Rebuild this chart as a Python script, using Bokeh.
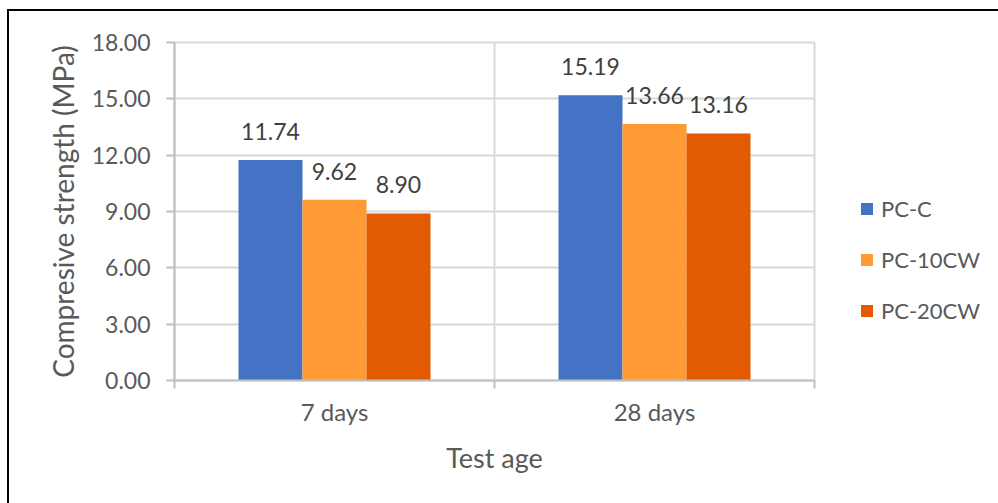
from bokeh.plotting import figure
from bokeh.models import (ColumnDataSource, Range1d, LinearAxis, FixedTicker,
                          NumeralTickFormatter, LabelSet, Legend, LegendItem, Span)
from bokeh.core.properties import value
from bokeh.embed import file_html
from bokeh.resources import INLINE

# Compressive strength by test age
ages = ["7 days", "28 days"]
series = ["PC-C", "PC-10CW", "PC-20CW"]
pc_c = [11.74, 15.19]
pc_10cw = [9.62, 13.66]
pc_20cw = [8.90, 13.16]
y_ticks = [0, 3, 6, 9, 12, 15, 18]

colors = ["#4472C4", "#FF9A35", "#E25B00"]
FONT = "Lato"
TXT = "#595959"

# each age group occupies one unit on the x scale; bars are 0.2 wide, side by side
centers = [i + 0.5 for i in range(len(ages))]
offsets = [-0.2, 0.0, 0.2]
values = [pc_c, pc_10cw, pc_20cw]

p = figure(frame_width=640, frame_height=338, x_range=Range1d(0, len(ages)),
           y_range=Range1d(0, 18), output_backend="svg", toolbar_location=None,
           min_border_left=165, min_border_right=184, min_border_top=31, min_border_bottom=123)
p.styles = {"margin-left": "7px", "margin-top": "9px",
            "border-left": "2px solid #000000", "border-top": "2px solid #000000"}
p.background_fill_color = "white"
p.border_fill_color = "white"
p.outline_line_color = "#d9d9d9"
p.outline_line_width = 2

renderers = []
for vals, off, c in zip(values, offsets, colors):
    src = ColumnDataSource(dict(x=[cx + off for cx in centers], top=vals,
                                lab=[f"{v:.2f}" for v in vals]))
    r = p.vbar(x="x", top="top", width=0.2, source=src, fill_color=c, line_color=None)
    renderers.append(r)
    p.add_layout(LabelSet(x="x", y="top", text="lab", source=src,
                          text_align="center", text_baseline="alphabetic", y_offset=20,
                          text_font=value(FONT), text_font_size="23px", text_color="#404040"))

# grid
p.xgrid.visible = False
p.ygrid.ticker = FixedTicker(ticks=y_ticks)
p.ygrid.grid_line_color = "#d9d9d9"
p.ygrid.grid_line_width = 2
p.add_layout(Span(location=1, dimension="height", line_color="#d9d9d9", line_width=2))

# y axis
ya = p.yaxis[0]
ya.ticker = FixedTicker(ticks=y_ticks)
ya.formatter = NumeralTickFormatter(format="0.00")
ya.axis_line_color = "#bfbfbf"
ya.axis_line_width = 2
ya.major_tick_line_color = "#bfbfbf"
ya.major_tick_line_width = 2
ya.major_tick_in = 0
ya.major_tick_out = 8
ya.minor_tick_line_color = None
ya.major_label_standoff = 16
ya.major_label_text_font = FONT
ya.major_label_text_font_size = "23px"
ya.major_label_text_color = TXT
ya.axis_label = "Compresive strength (MPa)"
ya.axis_label_text_font = FONT
ya.axis_label_text_font_size = "28px"
ya.axis_label_text_font_style = "normal"
ya.axis_label_text_color = TXT
ya.axis_label_standoff = 9

# x axis: tick marks at group boundaries, no labels
xa = p.xaxis[0]
xa.ticker = FixedTicker(ticks=list(range(len(ages) + 1)))
xa.major_label_overrides = {i: "" for i in range(len(ages) + 1)}
xa.axis_line_color = "#bfbfbf"
xa.axis_line_width = 2
xa.major_tick_line_color = "#bfbfbf"
xa.major_tick_line_width = 2
xa.major_tick_in = 0
xa.major_tick_out = 8
xa.minor_tick_line_color = None
xa.major_label_standoff = 0
xa.major_label_text_font_size = "1px"

# group names at group centres, plus the axis title
cat_axis = LinearAxis(ticker=FixedTicker(ticks=centers),
                      major_label_overrides={cx: a for cx, a in zip(centers, ages)},
                      axis_line_color=None, major_tick_line_color=None,
                      minor_tick_line_color=None, major_tick_in=0, major_tick_out=0,
                      major_label_standoff=8, major_label_text_font=FONT,
                      major_label_text_font_size="24px", major_label_text_color=TXT,
                      axis_label="Test age", axis_label_text_font=FONT,
                      axis_label_text_font_size="27px", axis_label_text_font_style="normal",
                      axis_label_text_color=TXT, axis_label_standoff=12)
p.add_layout(cat_axis, "below")

legend = Legend(items=[LegendItem(label=s, renderers=[r]) for s, r in zip(series, renderers)],
                location=(45, 56), orientation="vertical", padding=0, margin=0, spacing=24,
                glyph_width=15, glyph_height=15, label_standoff=7,
                label_text_font=FONT, label_text_font_size="22px", label_text_color=TXT,
                border_line_color=None, background_fill_alpha=0)
p.add_layout(legend, "right")

open("out.html", "w").write(file_html(p, INLINE))
